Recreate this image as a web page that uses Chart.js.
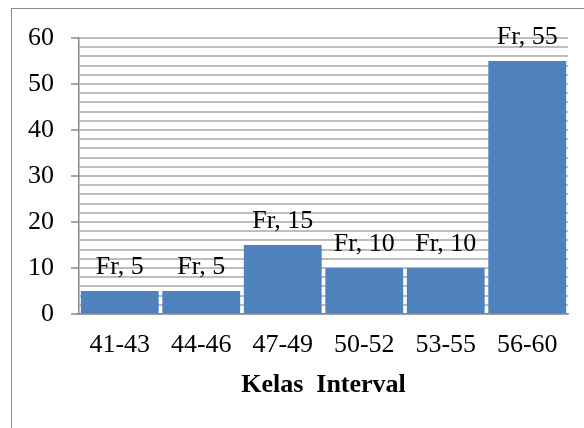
<!DOCTYPE html>
<html>
<head>
<meta charset="utf-8">
<script src="https://cdn.jsdelivr.net/npm/chart.js@4"></script>
<style>
  html, body { margin: 0; padding: 0; background: #fff; }
  #wrap { position: relative; width: 584px; height: 428px; overflow: hidden; }
  #frame { position: absolute; left: 11px; top: 8px; width: 700px; height: 600px; border: 1.5px solid #8c8c8c; box-sizing: border-box; }
  canvas { position: absolute; left: 0; top: 0; }
</style>
</head>
<body>
<div id="wrap">
  <div id="frame"></div>
  <canvas id="c" width="584" height="428"></canvas>
</div>
<script>
const categories = ['41-43', '44-46', '47-49', '50-52', '53-55', '56-60'];
const seriesName = 'Fr';
const frequencies = [5, 5, 15, 10, 10, 55];
const yTickValues = [0, 10, 20, 30, 40, 50, 60];
const xAxisTitle = 'Kelas  Interval';

const serif = '"Liberation Serif", "Times New Roman", serif';

const labelPlugin = {
  id: 'barLabels',
  afterDatasetsDraw(chart) {
    const ctx = chart.ctx;
    const meta = chart.getDatasetMeta(0);
    ctx.save();
    ctx.font = '26px ' + serif;
    ctx.fillStyle = '#000';
    ctx.textAlign = 'center';
    ctx.textBaseline = 'alphabetic';
    meta.data.forEach((bar, i) => {
      ctx.fillText(seriesName + ', ' + frequencies[i], bar.x, bar.y - 17);
    });
    ctx.restore();
  }
};

new Chart(document.getElementById('c'), {
  type: 'bar',
  data: {
    labels: categories,
    datasets: [{
      label: seriesName,
      data: frequencies,
      backgroundColor: '#4F81BD',
      borderWidth: 0,
      barPercentage: 0.955,
      categoryPercentage: 1.0
    }]
  },
  options: {
    responsive: false,
    animation: false,
    devicePixelRatio: 1,
    layout: { padding: { left: 0, right: 16, top: 38, bottom: 0 } },
    plugins: { legend: { display: false }, tooltip: { enabled: false } },
    scales: {
      x: {
        grid: { display: false, drawTicks: false },
        border: { display: true, color: '#868686', width: 1.5 },
        ticks: { color: '#000', font: { family: serif, size: 26 }, padding: 16, maxRotation: 0 },
        title: { display: true, text: xAxisTitle, color: '#000', font: { family: serif, size: 26, weight: 'bold' }, padding: { top: 0, bottom: 27 } },
        afterFit(scale) { scale.height = 114; }
      },
      y: {
        min: 0, max: 60,
        ticks: {
          stepSize: 2,
          color: '#000',
          font: { family: serif, size: 26 },
          padding: 17,
          autoSkip: false,
          callback(v) { return yTickValues.includes(v) ? String(v) : ''; }
        },
        grid: {
          color: '#bdbdbd',
          lineWidth: 2,
          tickLength: 8,
          tickColor(ctx) { return (ctx.tick && yTickValues.includes(ctx.tick.value)) ? '#868686' : 'rgba(0,0,0,0)'; },
          tickWidth: 1.5
        },
        border: { display: true, color: '#868686', width: 1.5 },
        afterFit(scale) { scale.width = 79; }
      }
    }
  },
  plugins: [labelPlugin]
});
</script>
</body>
</html>
